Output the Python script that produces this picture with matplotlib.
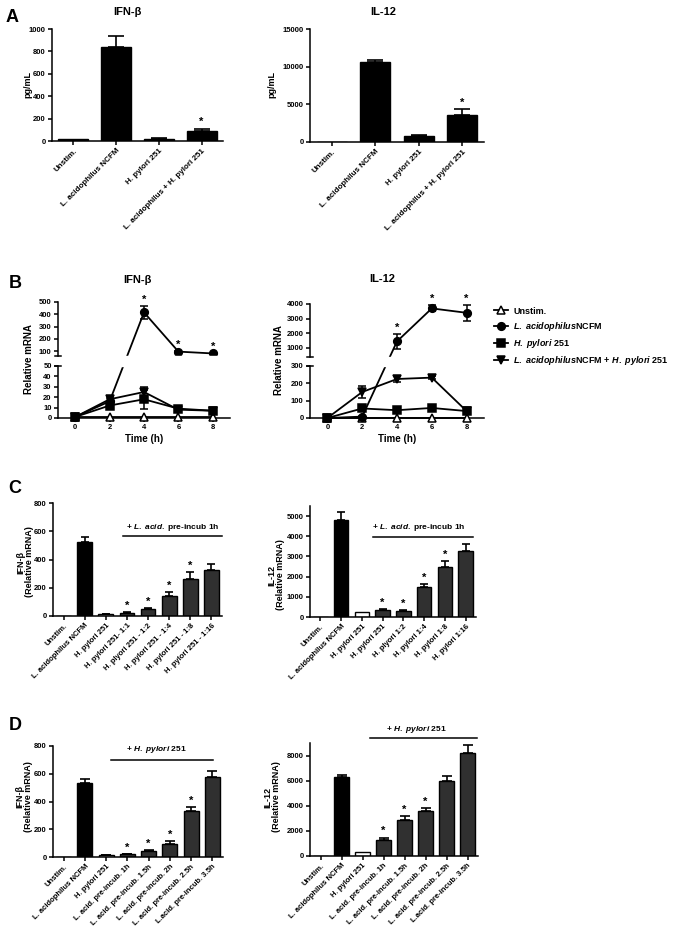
import numpy as np
import matplotlib
matplotlib.use('Agg')
import matplotlib.pyplot as plt

plt.rcParams['font.family'] = ['Liberation Sans', 'DejaVu Sans']
plt.rcParams['font.weight'] = 'bold'
plt.rcParams['mathtext.fontset'] = 'custom'
plt.rcParams['mathtext.rm'] = 'Liberation Sans:bold'
plt.rcParams['mathtext.it'] = 'Liberation Sans:italic:bold'
plt.rcParams['mathtext.bf'] = 'Liberation Sans:bold'
plt.rcParams['axes.linewidth'] = 1.1

# ---- panel A ----
a_labels = ['Unstim.', 'L. acidophilus NCFM', 'H. pylori 251', 'L. acidophilus + H. pylori 251']
a_ifn = [15, 840, 20, 85]
a_ifn_err = [0, 100, 4, 25]
a_ifn_star = [3]
a_il12 = [60, 10600, 800, 3600]
a_il12_err = [0, 250, 150, 800]
a_il12_star = [3]

# ---- panel B (time course) ----
b_time = [0, 2, 4, 6, 8]
b_names = ['Unstim.', r'$\mathit{L.\ acidophilus}$NCFM', r'$\mathit{H.\ pylori}$ 251',
           r'$\mathit{L.\ acidophilus}$NCFM + $\mathit{H.\ pylori}$ 251']
b_ifn_unstim = [0.5, 0.5, 0.5, 0.5, 0.5]
b_ifn_ncfm = [1, 16, 415, 95, 80]
b_ifn_ncfm_err = [0.5, 3, 50, 5, 5]
b_ifn_hp = [1, 12, 18, 9, 7]
b_ifn_hp_err = [0.5, 2, 9, 2, 2]
b_ifn_combo = [1, 18, 25, 8, 7]
b_ifn_combo_err = [0.5, 3, 5, 2, 3]
b_ifn_star = [4, 6, 8]
b_il_unstim = [0, 0, 0, 0, 0]
b_il_ncfm = [0, 8, 1450, 3700, 3400]
b_il_ncfm_err = [0, 5, 500, 200, 550]
b_il_hp = [0, 55, 45, 58, 40]
b_il_hp_err = [0, 8, 8, 15, 8]
b_il_combo = [0, 150, 225, 233, 40]
b_il_combo_err = [0, 35, 20, 8, 10]
b_il_star = [4, 6, 8]

# ---- panel C ----
c_ifn_labels = ['Unstim.', 'L. acidophilus NCFM', 'H. pylori 251', 'H. pylori 251- 1:1',
                'H. plyori 251 - 1:2', 'H. pylori 251 - 1:4', 'H. pylori 251 - 1:8',
                'H. pylori 251 - 1:16']
c_ifn = [3, 525, 12, 22, 50, 142, 265, 328]
c_ifn_err = [0, 32, 3, 4, 6, 25, 45, 40]
c_ifn_star = [3, 4, 5, 6]
c_il_labels = ['Unstim.', 'L. acidophilus NCFM', 'H. pylori 251', 'H. pylori 251',
               'H. plyori 1:2', 'H. pylori 1:4', 'H. pylori 1:8', 'H. pylori 1:16']
c_il = [20, 4800, 250, 370, 320, 1500, 2500, 3250]
c_il_err = [0, 420, 0, 30, 20, 130, 280, 370]
c_il_star = [3, 4, 5, 6]

# ---- panel D ----
d_labels = ['Unstim.', 'L. acidophilus NCFM', 'H. pylori 251', 'L. acid. pre-incub. 1h',
            'L. acid. pre-incub. 1.5h', 'L. acid. pre-incub. 2h', 'L. acid. pre-incub. 2.5h',
            'L.acid. pre-incub. 3.5h']
d_ifn = [3, 530, 12, 20, 42, 95, 335, 575]
d_ifn_err = [0, 30, 2, 3, 6, 20, 25, 45]
d_ifn_star = [3, 4, 5, 6]
d_il = [20, 6300, 300, 1300, 2850, 3600, 5950, 8200]
d_il_err = [0, 170, 0, 160, 300, 200, 450, 630]
d_il_star = [3, 4, 5]

W, H = 675, 935
fig = plt.figure(figsize=(W / 100, H / 100), dpi=100)


def px_axes(l, t, r, b):
    ax = fig.add_axes([l / W, 1 - b / H, (r - l) / W, (b - t) / H])
    ax.spines['top'].set_visible(False)
    ax.spines['right'].set_visible(False)
    ax.tick_params(direction='out', length=3, width=1.1, labelsize=5.5, pad=1.5)
    return ax


def fig_text(x, y, s, **kw):
    fig.text(x / W, 1 - y / H, s, ha='center', va='center', **kw)


def bar_panel(ax, labels, vals, errs, stars, colors, ymax, yticks, capsize, lab_size=5.5):
    x = np.arange(len(vals))
    ax.bar(x, vals, width=0.7, color=colors, edgecolor='black', linewidth=1.0, zorder=2)
    idx = [i for i in range(len(vals)) if errs[i] > 0]
    ax.errorbar(x[idx], np.array(vals)[idx], yerr=[np.zeros(len(idx)), np.array(errs)[idx]],
                fmt='none', ecolor='black', elinewidth=1.2, capsize=capsize, capthick=1.2, zorder=1)
    for i in stars:
        ax.annotate('*', xy=(i, vals[i] + errs[i]), xytext=(0, 1), textcoords='offset points',
                    ha='center', va='bottom', fontsize=8, fontweight='bold')
    ax.set_xlim(-0.5, len(vals) - 0.5)
    ax.set_ylim(0, ymax)
    ax.set_yticks(yticks)
    ax.set_xticks(x)
    ax.set_xticklabels(labels, rotation=45, ha='right', rotation_mode='anchor',
                       fontsize=lab_size, fontweight='bold')


# ===== A =====
ax = px_axes(52, 29, 223, 141)
bar_panel(ax, a_labels, a_ifn, a_ifn_err, a_ifn_star, ['black'] * 4, 1000,
          [0, 200, 400, 600, 800, 1000], 6, lab_size=5.8)
ax = px_axes(310, 29, 484, 142)
bar_panel(ax, a_labels, a_il12, a_il12_err, a_il12_star, ['black'] * 4, 15000,
          [0, 5000, 10000, 15000], 6, lab_size=5.8)
fig_text(12, 17, 'A', fontsize=13, fontweight='bold')
fig_text(127, 12, 'IFN-β', fontsize=8, fontweight='bold')
fig_text(383, 12, 'IL-12', fontsize=8, fontweight='bold')
fig_text(28, 84, 'pg/mL', fontsize=6.5, fontweight='bold', rotation=90)
fig_text(272, 84, 'pg/mL', fontsize=6.5, fontweight='bold', rotation=90)


# ===== B =====
def broken_axis(ax, vals, pos, low_top, high_bottom, top, ticks):
    vals = np.asarray(vals, float)
    pos = np.asarray(pos, float)
    ax.set_yscale('function', functions=(lambda v: np.interp(v, vals, pos),
                                         lambda y: np.interp(y, pos, vals)))
    ax.set_ylim(0, top)
    ax.set_yticks(ticks)
    ax.spines['left'].set_visible(False)
    tr = ax.get_yaxis_transform()
    ax.plot([0, 0], [0, low_top], transform=tr, color='k', lw=1.1, clip_on=False, zorder=6)
    ax.plot([0, 0], [high_bottom, top], transform=tr, color='k', lw=1.1, clip_on=False, zorder=6)
    ax.plot([-0.02, 0.02], [high_bottom, high_bottom], transform=tr, color='k', lw=1.1,
            clip_on=False, zorder=6)
    ax.plot([-0.02, 0.02], [low_top, low_top], transform=tr, color='k', lw=1.1,
            clip_on=False, zorder=6)
    ax.axhspan(low_top, high_bottom, color='white', zorder=4)


def time_series(ax, series, errs, stars):
    markers = ['^', 'o', 's', 'v']
    faces = ['white', 'black', 'black', 'black']
    handles = []
    for k, (vals, err) in enumerate(zip(series, errs)):
        if err is not None:
            ax.errorbar(b_time, vals, yerr=err, fmt='none', ecolor='black', elinewidth=1.1,
                        capsize=3, capthick=1.1, zorder=2, clip_on=False)
        ln, = ax.plot(b_time, vals, marker=markers[k], color='black', mfc=faces[k], mec='black',
                      mew=1.1, ms=5.5, lw=1.3, zorder=3, clip_on=False)
        handles.append(ln)
    for t in stars:
        i = b_time.index(t)
        ax.annotate('*', xy=(t, series[1][i] + errs[1][i]), xytext=(0, 1),
                    textcoords='offset points', ha='center', va='bottom', fontsize=8,
                    fontweight='bold', zorder=7)
    ax.set_xlim(-1, 9)
    ax.set_xticks(b_time)
    return handles


ax = px_axes(58, 302, 230, 418)
broken_axis(ax, [-1000, 0, 50, 60, 500, 10000], [-1040, 0, 52, 62.1, 116, 1279.75],
            50, 60, 500, [0, 10, 20, 30, 40, 50, 100, 200, 300, 400, 500])
handles = time_series(ax, [b_ifn_unstim, b_ifn_ncfm, b_ifn_hp, b_ifn_combo],
                      [None, b_ifn_ncfm_err, b_ifn_hp_err, b_ifn_combo_err], b_ifn_star)
ax.set_xlabel('Time (h)', fontsize=7, fontweight='bold', labelpad=2)

ax = px_axes(310, 304, 484, 418)
broken_axis(ax, [-10000, 0, 300, 400, 4000, 100000],
            [-1733.3, 0, 52, 61.2, 114, 114 + 96000 * 44 / 3000],
            300, 400, 4000, [0, 100, 200, 300, 1000, 2000, 3000, 4000])
time_series(ax, [b_il_unstim, b_il_ncfm, b_il_hp, b_il_combo],
            [None, b_il_ncfm_err, b_il_hp_err, b_il_combo_err], b_il_star)
ax.set_xlabel('Time (h)', fontsize=7, fontweight='bold', labelpad=2)

fig.legend(handles, b_names, loc='upper left', bbox_to_anchor=(490 / W, 1 - 303 / H),
           frameon=False, fontsize=6.5, handlelength=1.6, handletextpad=0.6,
           labelspacing=0.45, borderaxespad=0)

fig_text(15, 283, 'B', fontsize=13, fontweight='bold')
fig_text(137, 280, 'IFN-β', fontsize=8, fontweight='bold')
fig_text(382, 279, 'IL-12', fontsize=8, fontweight='bold')
fig_text(29, 359, 'Relative mRNA', fontsize=7, fontweight='bold', rotation=90)
fig_text(279, 360, 'Relative mRNA', fontsize=7, fontweight='bold', rotation=90)

# ===== C =====
grey = '#303030'
c_colors_ifn = ['white', 'black', 'white'] + [grey] * 5
c_colors_il = ['white', 'black', 'white'] + [grey] * 5

ax = px_axes(53, 503, 222, 616)
bar_panel(ax, c_ifn_labels, c_ifn, c_ifn_err, c_ifn_star, c_colors_ifn, 800,
          [0, 200, 400, 600, 800], 3)
ax.plot([2.8, 7.5], [566, 566], color='black', lw=1.1, clip_on=False)
ax.text(5.15, 630, r'+ $\mathit{L.\ acid.}$ pre-incub 1h', ha='center', va='center', fontsize=6)

ax = px_axes(310, 506, 476, 617)
bar_panel(ax, c_il_labels, c_il, c_il_err, c_il_star, c_colors_il, 5500,
          [0, 1000, 2000, 3000, 4000, 5000], 3)
ax.plot([2.55, 7.35], [3950, 3950], color='black', lw=1.1, clip_on=False)
ax.text(4.75, 4420, r'+ $\mathit{L.\ acid.}$ pre-incub 1h', ha='center', va='center', fontsize=6)

fig_text(15, 489, 'C', fontsize=13, fontweight='bold')
fig_text(25, 562, 'IFN-β\n(Relative mRNA)', fontsize=6.5, fontweight='bold', rotation=90,
         linespacing=1.0)
fig_text(276, 575, 'IL-12\n(Relative mRNA)', fontsize=6.5, fontweight='bold', rotation=90,
         linespacing=1.0)

# ===== D =====
ax = px_axes(53, 746, 223, 857)
bar_panel(ax, d_labels, d_ifn, d_ifn_err, d_ifn_star, c_colors_ifn, 800,
          [0, 200, 400, 600, 800], 3.5)
ax.plot([2.25, 7.05], [700, 700], color='black', lw=1.1, clip_on=False)
ax.text(4.35, 776, r'+ $\mathit{H.\ pylori}$ 251', ha='center', va='center', fontsize=6)

ax = px_axes(310, 743, 478, 856)
bar_panel(ax, d_labels, d_il, d_il_err, d_il_star, c_colors_il, 9000,
          [0, 2000, 4000, 6000, 8000], 3.5)
ax.plot([2.36, 7.44], [9360, 9360], color='black', lw=1.1, clip_on=False)
ax.text(4.58, 10080, r'+ $\mathit{H.\ pylori}$ 251', ha='center', va='center', fontsize=6)

fig_text(15, 725, 'D', fontsize=13, fontweight='bold')
fig_text(24, 797, 'IFN-β\n(Relative mRNA)', fontsize=6.5, fontweight='bold', rotation=90,
         linespacing=1.0)
fig_text(272, 797, 'IL-12\n(Relative mRNA)', fontsize=6.5, fontweight='bold', rotation=90,
         linespacing=1.0)

fig.savefig('out.png', dpi=100, facecolor='white')
